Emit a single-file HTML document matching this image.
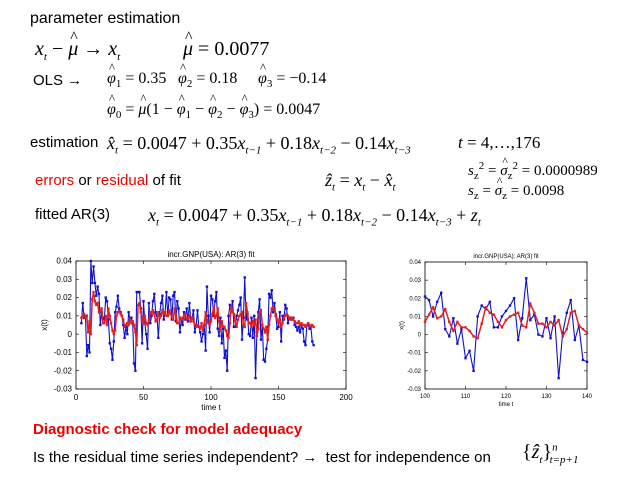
<!DOCTYPE html>
<html><head><meta charset="utf-8"><style>
body{margin:0;background:#fff;}
#s{position:relative;width:638px;height:479px;overflow:hidden;font-family:"Liberation Sans",Arial,sans-serif;}
.t{position:absolute;white-space:nowrap;color:#000;}
.m{font-family:"Liberation Serif",serif;font-size:18px;}
.i{font-style:italic;}
sub,sup{font-size:11px;}
.h{position:relative;display:inline-block;}
.h::before{content:"^";position:absolute;left:2px;top:-9px;font-style:normal;font-size:0.8em;}
</style></head><body><div id="s">
<div class="t" style="left:30px;top:10px;font-size:16px">parameter estimation</div>
<div class="t m" style="left:35px;top:38px;font-size:20px"><span class="i">x<sub>t</sub></span> − <span class="i h">μ</span> → <span class="i">x<sub>t</sub></span></div>
<div class="t m" style="left:183px;top:38px;font-size:20px"><span class="i h">μ</span> = 0.0077</div>
<div class="t" style="left:33px;top:72px;font-size:15px">OLS →</div>
<div class="t m" style="left:107px;top:70px;font-size:16px"><span class="i h">φ</span><sub>1</sub> = 0.35</div>
<div class="t m" style="left:178px;top:70px;font-size:16px"><span class="i h">φ</span><sub>2</sub> = 0.18</div>
<div class="t m" style="left:258px;top:70px;font-size:16px"><span class="i h">φ</span><sub>3</sub> = −0.14</div>
<div class="t m" style="left:107px;top:101px;font-size:16px"><span class="i h">φ</span><sub>0</sub> = <span class="i h">μ</span>(1 − <span class="i h">φ</span><sub>1</sub> − <span class="i h">φ</span><sub>2</sub> − <span class="i h">φ</span><sub>3</sub>) = 0.0047</div>
<div class="t" style="left:30px;top:134px;font-size:15px">estimation</div>
<div class="t m" style="left:107px;top:133px"><span class="i">x̂<sub>t</sub></span> = 0.0047 + 0.35<span class="i">x<sub>t−1</sub></span> + 0.18<span class="i">x<sub>t−2</sub></span> − 0.14<span class="i">x<sub>t−3</sub></span></div>
<div class="t m" style="left:458px;top:133px;font-size:17px"><span class="i">t</span> = 4,…,176</div>
<div class="t" style="left:35px;top:172px;font-size:15px"><span style="color:#e00">errors</span> or <span style="color:#e00">residual</span> of fit</div>
<div class="t m" style="left:325px;top:170px"><span class="i">ẑ<sub>t</sub></span> = <span class="i">x<sub>t</sub></span> − <span class="i">x̂<sub>t</sub></span></div>
<div class="t m" style="left:468px;top:160px;font-size:15px"><span class="i">s</span><sub>z</sub><sup>2</sup> = <span class="i h">σ</span><sub>z</sub><sup>2</sup> = 0.0000989</div>
<div class="t m" style="left:468px;top:183px;font-size:15px"><span class="i">s</span><sub>z</sub> = <span class="i h">σ</span><sub>z</sub> = 0.0098</div>
<div class="t" style="left:35px;top:206px;font-size:15px">fitted AR(3)</div>
<div class="t m" style="left:148px;top:205px"><span class="i">x<sub>t</sub></span> = 0.0047 + 0.35<span class="i">x<sub>t−1</sub></span> + 0.18<span class="i">x<sub>t−2</sub></span> − 0.14<span class="i">x<sub>t−3</sub></span> + <span class="i">z<sub>t</sub></span></div>
<svg id="c" width="638" height="479" style="position:absolute;left:0;top:0"></svg>
<div class="t" style="left:33px;top:421px;font-size:15px;color:#e00;font-weight:bold">Diagnostic check for model adequacy</div>
<div class="t" style="left:33px;top:449px;font-size:15px">Is the residual time series independent? → &nbsp;test for independence on</div>
<div class="t m" style="left:522px;top:441px;font-size:20px">{<span class="i">ẑ<sub>t</sub></span>}<sup class="i">n</sup><sub class="i" style="margin-left:-8px">t=p+1</sub></div>
</div>
<script>
const blueFull=[.006,.017,.009,.010,-.012,-.006,-.010,.040,.028,.037,.028,.021,.026,.022,.005,.012,.009,.008,.020,.018,.008,-.005,-.008,-.014,-.004,.012,.015,.021,.014,.012,.010,.005,-.002,.004,.000,.012,.008,.009,.006,-.016,-.020,.023,.023,.023,.014,-.005,.018,.006,.000,-.008,.017,.006,.010,.018,.022,.012,.010,-.002,.011,.017,.021,.008,.012,.023,.010,.020,.019,.008,.021,.023,.007,.018,.014,.001,.008,.005,.012,.008,.014,.007,.017,.008,.009,.013,.001,.005,.013,.004,.001,-.004,.000,.005,-.009,.026,.010,.001,
.021,.019,.010,.018,.023,.003,-.001,.009,-.005,.003,-.013,-.009,-.020,.010,.016,.014,.018,.004,.004,.010,.013,.016,.020,-.003,.009,.031,.008,.011,.000,-.001,.009,-.002,.010,-.024,.001,.012,.019,-.003,.005,-.014,-.015,
-.008,-.003,.022,.020,.024,.012,.017,.010,.003,.004,.012,-.004,.010,.008,.016,.014,.006,.009,.009,.008,.009,.005,.004,.002,.004,.001,.005,.003,-.004,-.006,.005,.005,.003,.004,-.004,-.006];
const redFull=[.009,.010,.011,.009,.010,.001,.007,.000,.019,.023,.018,.016,.017,.012,.013,.014,.006,.006,.010,.005,.014,.010,.006,.002,.000,.002,.010,.012,.013,.011,.010,.008,.004,.005,.006,.005,.008,.006,.007,.005,.001,-.006,.016,.017,.012,.008,.006,.010,.006,.005,.008,.012,.011,.013,.011,.007,.008,.012,.009,.010,.013,.011,.012,.010,.010,.013,.011,.009,.008,.014,.011,.006,.006,.009,.008,.009,.010,.011,.008,.009,.010,.007,.009,.007,.005,.004,.005,.004,.003,.006,.002,.005,.012,.008,.006,.005,
.007,.011,.015,.009,.010,.014,.007,.002,.007,.004,.004,.002,-.001,-.002,.006,.015,.012,.011,.007,.004,.008,.010,.011,.012,.005,.004,.017,.012,.006,.006,.004,.007,.005,.008,-.001,.003,.012,.013,.005,.003,.001,
.004,-.003,.005,.010,.014,.015,.013,.011,.008,.006,.008,.004,.006,.009,.010,.011,.010,.009,.008,.009,.008,.007,.006,.006,.007,.005,.006,.005,.005,.004,.005,.006,.005,.004,.005,.004];
const tStart=4;
const zoomT0=100;
const zoomBlue=[.021,.019,.010,.018,.023,.003,-.001,.009,-.005,.003,-.013,-.009,-.020,.010,.016,.014,.018,.004,.004,.010,.013,.016,.020,-.003,.009,.031,.008,.011,.000,-.001,.009,-.002,.010,-.024,.001,.012,.019,-.003,.005,-.014,-.015];
const zoomRed=[.007,.011,.015,.009,.010,.014,.007,.002,.007,.004,.004,.002,-.001,-.002,.006,.015,.012,.011,.007,.004,.008,.010,.011,.012,.005,.004,.017,.012,.006,.006,.004,.007,.005,.008,-.001,.003,.012,.013,.005,.003,.001];
const yTicks=[0.04,0.03,0.02,0.01,0,-0.01,-0.02,-0.03];
const xTicksL=[0,50,100,150,200];
const xTicksR=[100,110,120,130,140];
const NS='http://www.w3.org/2000/svg';
const svg=document.getElementById('c');
function mk(tag,at,parent){const e=document.createElementNS(NS,tag);for(const k in at)e.setAttribute(k,at[k]);(parent||svg).appendChild(e);return e;}
function chart(o){
 const g=mk('g',{});
 
 
 const X=v=>o.x0+(v-o.xmin)/(o.xmax-o.xmin)*(o.x1-o.x0);
 const Y=v=>o.y1-(v+0.03)/0.07*(o.y1-o.y0);
 const fr=mk('rect',{x:o.x0,y:o.y0,width:o.x1-o.x0,height:o.y1-o.y0,fill:'none',stroke:'#000','stroke-width':0.8},g);
 
 
 yTicks.forEach(v=>{const y=Y(v);
  mk('line',{x1:o.x0,x2:o.x0+3,y1:y,y2:y,stroke:'#000','stroke-width':.6},g);
  mk('line',{x1:o.x1,x2:o.x1-3,y1:y,y2:y,stroke:'#000','stroke-width':.6},g);
  const t=mk('text',{x:o.x0-4,y:y+o.fs/3,'text-anchor':'end','font-size':o.fs},g);t.textContent=v===0?'0':v.toFixed(2);
  
  });
 o.xt.forEach(v=>{const x=X(v);
  mk('line',{x1:x,x2:x,y1:o.y1,y2:o.y1-3,stroke:'#000','stroke-width':.6},g);
  mk('line',{x1:x,x2:x,y1:o.y0,y2:o.y0+3,stroke:'#000','stroke-width':.6},g);
  const t=mk('text',{x:x,y:o.y1+o.fs+3,'text-anchor':'middle','font-size':o.fs},g);t.textContent=v;
  
  });
 const ti=mk('text',{x:(o.x0+o.x1)/2,y:o.y0-4,'text-anchor':'middle','font-size':o.fs},g);ti.textContent='incr.GNP(USA): AR(3) fit';
 
 const xl=mk('text',{x:(o.x0+o.x1)/2,y:o.y1+2*o.fs+5,'text-anchor':'middle','font-size':o.fs},g);xl.textContent='time t';
 
 const yl=mk('text',{x:0,y:0,'text-anchor':'middle','font-size':o.fs,transform:`translate(${o.x0-o.fs*3.6},${(o.y0+o.y1)/2}) rotate(-90)`},g);yl.textContent='x(t)';
 
 [[o.blue,'#1010d0','observed-series',1.1],[o.red,'#e02020','fitted-series',1.5]].forEach(([arr,col,nm,sw])=>{
  const pts=arr.map((v,i)=>[X(o.t0+i),Y(v)]).filter(p=>p[0]>=o.x0-0.5&&p[0]<=o.x1+0.5);
  const pl=mk('polyline',{points:pts.map(p=>p.join(',')).join(' '),fill:'none',stroke:col,'stroke-width':sw},g);
  
  pts.forEach(p=>{const m=mk('rect',{x:p[0]-1.2,y:p[1]-1.2,width:2.4,height:2.4,fill:col},g);
   });
 });
}
chart({name:'full-series-chart',x0:76,x1:346,y0:261,y1:389,xmin:0,xmax:200,xt:xTicksL,fs:8,blue:blueFull,red:redFull,t0:tStart});
chart({name:'zoomed-series-chart',x0:425,x1:587,y0:262,y1:389,xmin:100,xmax:140,xt:xTicksR,fs:6,blue:zoomBlue,red:zoomRed,t0:zoomT0});
</script>
</body></html>
